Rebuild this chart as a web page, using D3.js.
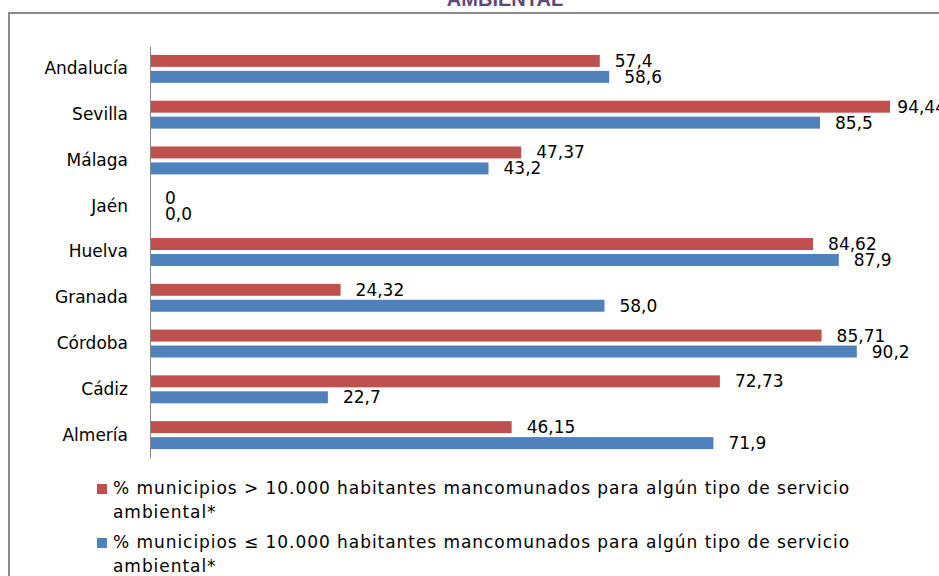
<!DOCTYPE html>
<html>
<head>
<meta charset="utf-8">
<script src="https://cdn.jsdelivr.net/npm/d3@7/dist/d3.min.js"></script>
<style>
  body { margin: 0; background: #fff; }
  svg { display: block; }
  text { font-family: "DejaVu Sans", sans-serif; fill: #000; }
</style>
</head>
<body>
<div id="chart"></div>
<script>

var width = 939,
    height = 576;

// provinces, top to bottom
var provincias = ["Andalucía", "Sevilla", "Málaga", "Jaén", "Huelva", "Granada", "Córdoba", "Cádiz", "Almería"];

// values as printed on the chart
var mayores = ["57,4", "94,44", "47,37", "0", "84,62", "24,32", "85,71", "72,73", "46,15"];
var menores = ["58,6", "85,5", "43,2", "0,0", "87,9", "58,0", "90,2", "22,7", "71,9"];

var series = ["mayores", "menores"];
var colores = ["#C0504D", "#4F81BD"];
var leyenda = [
  ["% municipios > 10.000 habitantes mancomunados para algún tipo de servicio", "ambiental*"],
  ["% municipios ≤ 10.000 habitantes mancomunados para algún tipo de servicio", "ambiental*"]
];

function num(s) { return +s.replace(",", "."); }

var svg = d3.select("#chart").append("svg")
    .attr("width", width)
    .attr("height", height);

// cut-off title above the frame
svg.append("text")
    .attr("x", 505)
    .attr("y", 6)
    .attr("text-anchor", "middle")
    .style("font-family", "'Liberation Sans', Arial, sans-serif")
    .style("font-weight", "bold")
    .style("font-size", "20px")
    .style("fill", "#5F497A")
    .text("AMBIENTAL");

// chart frame (runs off the right and bottom)
svg.append("rect")
    .attr("x", 9)
    .attr("y", 13)
    .attr("width", 1000)
    .attr("height", 700)
    .attr("fill", "none")
    .attr("stroke", "#8a8a8a")
    .attr("stroke-width", 2);

var x = d3.scaleLinear()
    .domain([0, 100])
    .range([150, 933.6]);

var y0 = d3.scaleBand()
    .domain(provincias)
    .range([46, 458])
    .paddingInner(0.39)
    .paddingOuter(0.195);

var y1 = d3.scaleBand()
    .domain(series)
    .range([0, y0.bandwidth()])
    .paddingInner(0.25);

var color = d3.scaleOrdinal()
    .domain(series)
    .range(colores);

var rows = [];
provincias.forEach(function(p, i) {
  rows.push({prov: p, serie: "mayores", label: mayores[i], value: num(mayores[i])});
  rows.push({prov: p, serie: "menores", label: menores[i], value: num(menores[i])});
});

svg.selectAll(".bar")
    .data(rows)
  .enter().append("rect")
    .attr("class", "bar")
    .attr("x", x(0))
    .attr("y", function(d) { return y0(d.prov) + y1(d.serie); })
    .attr("width", function(d) { return x(d.value) - x(0); })
    .attr("height", y1.bandwidth())
    .attr("fill", function(d) { return color(d.serie); });

// data labels, kept inside the plot area like Excel does
var plotRight = 946;
svg.selectAll(".lbl")
    .data(rows)
  .enter().append("text")
    .attr("class", "lbl")
    .attr("y", function(d) { return y0(d.prov) + y1(d.serie) + y1.bandwidth() / 2 + 6; })
    .style("font-size", "17px")
    .text(function(d) { return d.label; })
    .attr("x", function(d) {
      var w = this.getComputedTextLength();
      return Math.min(x(d.value) + 15, plotRight - w);
    });

var yAxis = svg.append("g")
    .attr("transform", "translate(" + x(0) + ",0)")
    .call(d3.axisLeft(y0).tickSize(0).tickSizeOuter(0).tickPadding(22));

yAxis.select(".domain")
    .attr("stroke", "#868686");

yAxis.selectAll("text")
    .style("font-family", "'DejaVu Sans', sans-serif")
    .style("font-size", "17px")
    .style("fill", "#000");

// legend
var leg = svg.selectAll(".leg")
    .data(series)
  .enter().append("g")
    .attr("class", "leg")
    .attr("transform", function(d, i) { return "translate(97," + (484 + i * 54) + ")"; });

leg.append("rect")
    .attr("width", 10)
    .attr("height", 10)
    .attr("fill", function(d) { return color(d); });

leg.each(function(d, i) {
  var t = d3.select(this).append("text")
      .style("font-size", "17px")
      .style("letter-spacing", "0.95px");
  t.selectAll("tspan")
      .data(leyenda[i])
    .enter().append("tspan")
      .attr("x", 16)
      .attr("y", function(s, j) { return 10 + j * 24; })
      .text(function(s) { return s; });
});

</script>
</body>
</html>
